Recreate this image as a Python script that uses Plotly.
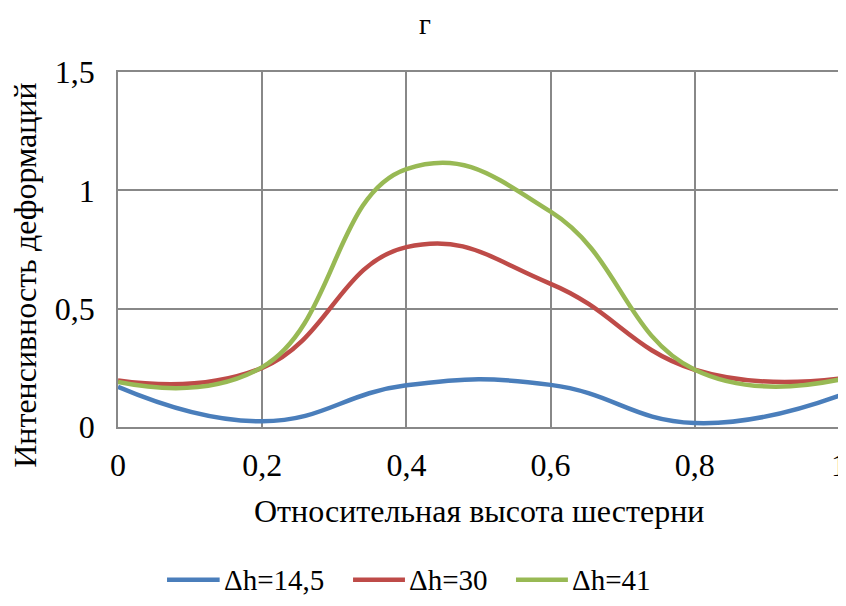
import plotly.graph_objects as go

x_vals = [0, 0.2, 0.4, 0.6, 0.8, 1.0]
s1_name = "Δh=14,5"
s1_vals = [0.17, 0.024, 0.176, 0.178, 0.017, 0.132]
s2_name = "Δh=30"
s2_vals = [0.197, 0.25, 0.76, 0.605, 0.242, 0.204]
s3_name = "Δh=41"
s3_vals = [0.19, 0.253, 1.09, 0.91, 0.242, 0.2]

x_ticks = [0, 0.2, 0.4, 0.6, 0.8, 1.0]
x_labels = ["0", "0,2", "0,4", "0,6", "0,8", "1"]
y_ticks = [0, 0.5, 1.0, 1.5]
y_labels = ["0", "0,5", "1", "1,5"]

title_text = "г"
x_title = "Относительная высота шестерни"
y_title = "Интенсивность деформаций"

FONT = "Liberation Serif"
GRID = "#888888"
colors = ["#4A7EBB", "#BE4B48", "#98B954"]
series = [(s1_name, s1_vals), (s2_name, s2_vals), (s3_name, s3_vals)]

fig = go.Figure()
for (name, vals), col in zip(series, colors):
    fig.add_trace(go.Scatter(x=x_vals, y=vals, name=name, mode="lines", showlegend=False,
                             line=dict(color=col, width=4.5, shape="spline", smoothing=1.3)))

# custom legend (keys + labels) below the plot
leg_y = -0.43
leg_keys = [(0.068, 0.141), (0.326, 0.398), (0.552, 0.624)]
for (name, _), col, (x0, x1) in zip(series, colors, leg_keys):
    fig.add_shape(type="line", xref="paper", yref="paper", x0=x0, x1=x1, y0=leg_y, y1=leg_y,
                  line=dict(color=col, width=4.5))
    fig.add_annotation(xref="paper", yref="paper", x=x1 + 0.003, y=leg_y, text=name,
                       showarrow=False, xanchor="left", yanchor="middle",
                       font=dict(family=FONT, size=29, color="black"))

# chart title and axis titles
fig.add_annotation(xref="paper", yref="paper", x=0.426, y=1.134, text=title_text,
                   showarrow=False, xanchor="center", yanchor="middle",
                   font=dict(family=FONT, size=29, color="black"))
fig.add_annotation(xref="paper", yref="paper", x=0.501, y=-0.238, text=x_title,
                   showarrow=False, xanchor="center", yanchor="middle",
                   font=dict(family=FONT, size=32, color="black"))
fig.add_annotation(xref="paper", yref="paper", x=-0.129, y=0.4287, text=y_title,
                   showarrow=False, xanchor="center", yanchor="middle", textangle=-90,
                   font=dict(family=FONT, size=32, color="black"))

# page body has an 8px margin, so the figure is shrunk by 8px and margins shifted
fig.update_layout(
    width=838, height=598,
    margin=dict(l=110, r=6.5, t=64, b=178.7, autoexpand=False),
    paper_bgcolor="white", plot_bgcolor="white",
    separators=", ",
    font=dict(family=FONT, size=32, color="black"),
    showlegend=False,
)
fig.update_xaxes(range=[0, 1], tickvals=x_ticks, ticktext=x_labels, automargin=False,
                 showgrid=True, gridcolor=GRID, gridwidth=1.5, zeroline=False,
                 showline=True, linecolor=GRID, linewidth=1.5, mirror=True,
                 ticks="", ticklabelstandoff=9, ticklabeloverflow="allow",
                 tickfont=dict(family=FONT, size=32))
fig.update_yaxes(range=[0, 1.5], tickvals=y_ticks, ticktext=y_labels, automargin=False,
                 showgrid=True, gridcolor=GRID, gridwidth=1.5, zeroline=False,
                 showline=True, linecolor=GRID, linewidth=1.5, mirror=True,
                 ticks="", ticklabelstandoff=15, ticklabeloverflow="allow",
                 tickfont=dict(family=FONT, size=32))

fig.write_html("out.html")
